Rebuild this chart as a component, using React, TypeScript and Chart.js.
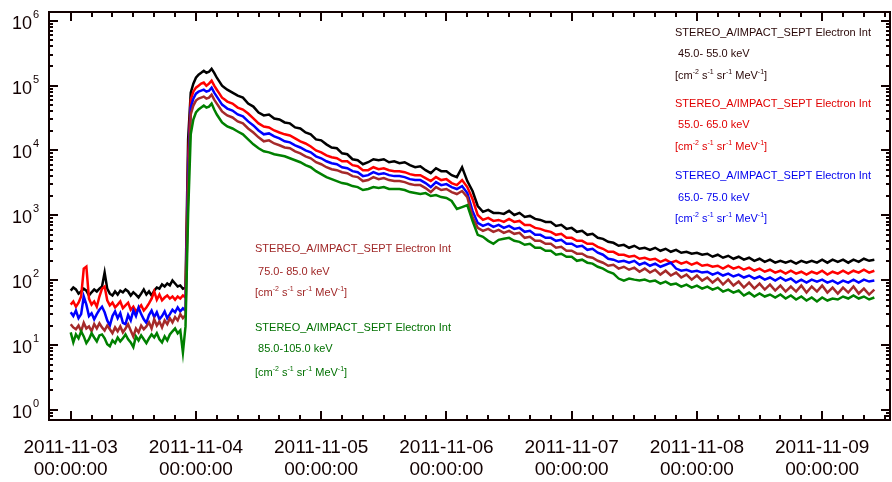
import { useEffect, useRef } from "react";
import { Chart, registerables } from "chart.js";

Chart.register(...registerables);

// Sample times in hours since 2011-11-03 00:00 UT:
// half-hour cadence up to 29.5 h (quiet period and onset), hourly from 30 h to 154 h.
const HALF_HOUR_COUNT = 60;
const HOURLY_COUNT = 125;
const HOURS: number[] = [
  ...Array.from({ length: HALF_HOUR_COUNT }, (_, i) => i * 0.5),
  ...Array.from({ length: HOURLY_COUNT }, (_, i) => 30 + i),
];

// Electron intensities [cm^-2 s^-1 sr^-1 MeV^-1]
const FLUX_45_55: number[] = [
  69, 77, 72, 62, 67, 74, 69, 58, 65, 72, 67, 74, 80, 131, 74, 62, 58, 67, 60, 69, 65, 72, 67, 58, 65,
  60, 54, 62, 72, 60, 67, 58, 69, 77, 74, 86, 80, 89, 83, 99, 89, 80, 83, 74, 77,
  14800, 77700, 107000, 132000, 147000, 157000, 169000, 157000, 163000, 181000, 157000, 132000, 115000, 99500, 92700,
  86300, 77700, 69900, 65100, 52700, 47400, 38400, 34600, 35800, 31100,
  30000, 27000, 26100, 22600, 21800, 18900, 17700, 14800, 14300, 12400,
  11100, 10800, 9020, 8720, 7310, 7060, 6130, 6580, 7310, 7060,
  7310, 6580, 6810, 6350, 6580, 5920, 5510, 5710, 4960, 4460,
  5320, 4790, 4790, 4160, 3880, 5510, 3370, 2370, 1390, 1130,
  1210, 1090, 1090, 1050, 1170, 1010, 1090, 944, 978, 880,
  849, 791, 791, 687, 712, 618, 640, 556, 576, 500,
  518, 450, 434, 390, 377, 339, 351, 316, 339, 305,
  316, 294, 316, 284, 305, 274, 294, 265, 274, 256,
  265, 247, 256, 230, 247, 222, 238, 214, 230, 207,
  222, 199, 214, 192, 207, 186, 199, 186, 199, 180,
  199, 186, 199, 186, 207, 186, 207, 192, 207, 186,
  207, 192, 214, 199, 207,
];

const FLUX_55_65: number[] = [
  42, 47, 39, 45, 56, 151, 162, 52, 42, 47, 39, 56, 74, 80, 49, 41, 45, 38, 42, 47, 37, 41, 45, 35, 39,
  33, 37, 41, 34, 38, 44, 52, 67, 50, 60, 49, 54, 58, 52, 56, 50, 56, 52, 58, 54,
  7310, 60700, 80400, 92700, 99500, 107000, 111000, 99500, 107000, 119000, 99500, 86300, 75000, 65100, 60700,
  56600, 52700, 45800, 42700, 37100, 31100, 26100, 23400, 22600, 20300,
  18900, 17700, 17000, 15300, 13800, 12800, 11500, 10000, 9340, 8410,
  7840, 7570, 6810, 6810, 5920, 5710, 4960, 4960, 5510, 5140,
  5320, 4960, 4790, 4790, 4620, 4310, 4160, 4160, 3740, 3370,
  3880, 3490, 3610, 3140, 2920, 3490, 2720, 1780, 1010, 849,
  911, 820, 849, 791, 880, 791, 820, 712, 712, 640,
  618, 576, 556, 500, 518, 450, 450, 404, 404, 364,
  364, 327, 305, 274, 274, 247, 247, 230, 238, 214,
  222, 207, 214, 192, 207, 186, 199, 180, 192, 173,
  186, 167, 173, 161, 167, 151, 167, 151, 161, 145,
  156, 140, 151, 135, 145, 131, 140, 126, 140, 126,
  135, 122, 135, 126, 140, 122, 135, 126, 140, 126,
  140, 131, 145, 131, 140,
];

const FLUX_65_75: number[] = [
  32, 28, 34, 26, 30, 56, 42, 28, 31, 25, 30, 35, 39, 32, 24, 20, 28, 33, 26, 31, 22, 21, 29, 24, 34,
  28, 38, 30, 25, 22, 29, 34, 27, 32, 25, 28, 33, 26, 30, 35, 32, 38, 33, 37, 34,
  4310, 45800, 62900, 75000, 80400, 83300, 86300, 80400, 83300, 92700, 77700, 67500, 58600, 50900, 47400,
  44200, 41200, 35800, 33400, 28000, 24300, 20300, 17700, 18300, 16500,
  15300, 13800, 13300, 12000, 11100, 10000, 9340, 8120, 7570, 6810,
  6350, 6130, 5510, 5320, 4790, 4620, 4020, 4160, 4620, 4310,
  4460, 4160, 4020, 4020, 3880, 3610, 3490, 3490, 3140, 2720,
  3250, 2920, 3030, 2720, 2540, 2820, 2200, 1170, 764, 687,
  737, 663, 712, 640, 687, 618, 640, 556, 576, 500,
  500, 450, 450, 404, 419, 364, 364, 327, 339, 294,
  305, 265, 247, 214, 207, 192, 199, 186, 199, 173,
  186, 167, 180, 161, 173, 186, 151, 140, 145, 135,
  140, 131, 135, 122, 131, 118, 126, 114, 122, 110,
  118, 106, 114, 102, 110, 98.6, 110, 98.6, 106, 91.9,
  102, 91.9, 102, 95.2, 102, 91.9, 98.6, 88.7, 98.6, 91.9,
  102, 91.9, 102, 95.2, 98.6,
];

const FLUX_75_85: number[] = [
  21, 18.7, 17.5, 20, 16.3, 22, 18, 19.4, 16.3, 21, 18, 21.6, 18.7, 16.8, 20, 17.5, 15.2, 18.7, 16.3, 19.4,
  15.7, 18, 21, 16.8, 13.6, 18, 15.7, 20, 17.5, 19.4, 22.4, 18, 25, 20, 23, 18.7, 24, 21, 26, 22.4,
  27, 24, 30, 26, 29,
  2540, 35800, 49100, 58600, 62900, 65100, 67500, 62900, 65100, 72400, 60700, 52700, 45800, 39800, 37100,
  34600, 32200, 28000, 26100, 21800, 18900, 15900, 13800, 14300, 12800,
  12000, 11100, 10800, 9680, 9020, 8120, 7570, 6580, 6130, 5510,
  5140, 4960, 4620, 4460, 4020, 3880, 3370, 3490, 3880, 3610,
  3740, 3490, 3370, 3370, 3250, 3030, 2920, 2920, 2630, 2280,
  2720, 2450, 2540, 2280, 2130, 2370, 1910, 944, 640, 576,
  618, 556, 596, 536, 576, 518, 536, 450, 466, 404,
  404, 364, 364, 316, 327, 284, 284, 256, 256, 230,
  222, 199, 186, 167, 173, 151, 161, 145, 156, 135,
  151, 131, 145, 122, 140, 118, 131, 110, 122, 102,
  118, 98.6, 110, 91.9, 106, 85.6, 102, 82.6, 95.2, 77.0,
  91.9, 74.3, 88.7, 71.7, 85.6, 69.2, 82.6, 66.8, 79.8, 66.8,
  82.6, 64.5, 79.8, 66.8, 82.6, 64.5, 77.0, 62.3, 77.0, 64.5,
  79.8, 62.3, 74.3, 60.1, 71.7,
];

const FLUX_85_105: number[] = [
  15.7, 11, 14.6, 12.7, 16.3, 13.6, 10.7, 12.3, 15.2, 13.1, 11.4, 14.1, 14.6, 12.7, 10.3, 9.6, 11.8, 10.7,
  13.1, 11.4, 12.7, 14.6, 12.3, 11, 9.3, 13.6, 11.8, 14.1, 12.3, 10.7, 12.7, 14.6, 13.1, 15.2, 12.3, 11,
  13.6, 11.8, 14.6, 16.3, 18.1, 15.2, 16.8, 7.7, 19.4,
  1050, 17700, 30000, 38400, 42700, 45800, 49100, 45800, 47400, 52700, 42700, 35800, 31100, 27000, 25100,
  23400, 21800, 19600, 17700, 14800, 12400, 10800, 9680, 9340, 8720,
  8410, 8120, 7570, 7060, 6580, 5920, 5510, 4790, 4310, 3880,
  3610, 3370, 3140, 3030, 2820, 2720, 2450, 2540, 2720, 2630,
  2720, 2540, 2540, 2540, 2450, 2280, 2200, 2130, 2200, 1980,
  2050, 1910, 1850, 1660, 1250, 1340, 1440, 820, 500, 466,
  404, 364, 419, 434, 450, 404, 390, 351, 364, 316,
  316, 284, 284, 247, 256, 230, 230, 199, 207, 186,
  180, 161, 151, 135, 126, 106, 98.6, 106, 102, 98.6,
  102, 95.2, 98.6, 88.7, 95.2, 85.6, 88.7, 79.8, 85.6, 77.0,
  82.6, 74.3, 79.8, 71.7, 77.0, 66.8, 71.7, 64.5, 69.2, 58.0,
  64.5, 56.0, 62.3, 56.0, 60.1, 54.1, 60.1, 52.2, 58.0, 50.4,
  56.0, 48.6, 54.1, 46.9, 54.1, 48.6, 52.2, 50.4, 56.0, 52.2,
  58.0, 52.2, 56.0, 50.4, 54.1,
];

const SERIES = [FLUX_45_55, FLUX_55_65, FLUX_65_75, FLUX_75_85, FLUX_85_105];
const ENERGY_BANDS = ["45.0- 55.0 keV", "55.0- 65.0 keV", "65.0- 75.0 keV", "75.0- 85.0 keV", "85.0-105.0 keV"];
const SERIES_COLORS = ["#000000", "#ff0000", "#0000ff", "#a52a2a", "#008000"];
const LABEL_COLORS = ["#2a0808", "#e00000", "#0000ee", "#a02828", "#007000"];
const INSTRUMENT = "STEREO_A/IMPACT_SEPT Electron Int";

const DAY_LABELS = ["2011-11-03", "2011-11-04", "2011-11-05", "2011-11-06", "2011-11-07", "2011-11-08", "2011-11-09"];
const TIME_LABEL = "00:00:00";
const DECADES = [0, 1, 2, 3, 4, 5, 6];

const X_MIN = -4.16;
const X_MAX = 157.0;
const Y_MIN = 0.746;
const Y_MAX = 1.36e6;

const FONT = "'Liberation Sans', Arial, sans-serif";
const AXIS_COLOR = "#120000";

// Label block anchors: left edge and baselines of the three text lines
const LEGEND_BLOCKS = [
  { x: 675, lines: [36, 57, 79] },
  { x: 675, lines: [107, 128, 150] },
  { x: 675, lines: [179, 201, 222] },
  { x: 255, lines: [252, 275, 296] },
  { x: 255, lines: [331, 352, 376] },
];

function drawUnits(ctx: CanvasRenderingContext2D, x: number, y: number) {
  const parts: [string, boolean][] = [
    ["[cm", false], ["-2", true], [" s", false], ["-1", true],
    [" sr", false], ["-1", true], [" MeV", false], ["-1", true], ["]", false],
  ];
  let cx = x;
  for (const [text, sup] of parts) {
    ctx.font = sup ? `7px ${FONT}` : `11px ${FONT}`;
    ctx.fillText(text, cx, sup ? y - 5 : y);
    cx += ctx.measureText(text).width;
  }
}

const framePlugin = {
  id: "idlFrame",
  afterDraw(chart: any) {
    const { ctx, chartArea: a, scales } = chart;
    const xs = scales.x;
    const ys = scales.y;
    ctx.save();
    ctx.strokeStyle = AXIS_COLOR;
    ctx.fillStyle = AXIS_COLOR;
    ctx.lineWidth = 2;
    ctx.strokeRect(a.left, a.top, a.right - a.left, a.bottom - a.top);

    // time ticks every 4 hours, longer at midnight
    ctx.beginPath();
    for (let h = 0; h <= 156; h += 4) {
      const px = Math.round(xs.getPixelForValue(h));
      const len = h % 24 === 0 ? 9 : 5;
      ctx.moveTo(px, a.bottom);
      ctx.lineTo(px, a.bottom - len);
      ctx.moveTo(px, a.top);
      ctx.lineTo(px, a.top + len);
    }
    // logarithmic ticks on both vertical axes
    for (let d = -1; d <= 6; d++) {
      for (let k = 1; k <= 9; k++) {
        const v = k * Math.pow(10, d);
        if (v < Y_MIN || v > Y_MAX) continue;
        const py = Math.round(ys.getPixelForValue(v));
        const len = k === 1 ? 9 : 4;
        ctx.moveTo(a.left, py);
        ctx.lineTo(a.left + len, py);
        ctx.moveTo(a.right, py);
        ctx.lineTo(a.right - len, py);
      }
    }
    ctx.stroke();

    // decade labels
    for (const d of DECADES) {
      const py = ys.getPixelForValue(Math.pow(10, d));
      ctx.textAlign = "right";
      ctx.font = `18px ${FONT}`;
      ctx.fillText("10", 32, py + 8);
      ctx.textAlign = "left";
      ctx.font = `11px ${FONT}`;
      ctx.fillText(String(d), 33, py - 3);
    }

    // date labels
    ctx.textAlign = "center";
    ctx.font = `19px ${FONT}`;
    DAY_LABELS.forEach((label, i) => {
      const px = xs.getPixelForValue(24 * i);
      ctx.fillText(label, px, 453);
      ctx.fillText(TIME_LABEL, px, 475);
    });

    // channel annotations
    ctx.textAlign = "left";
    LEGEND_BLOCKS.forEach((b, i) => {
      ctx.fillStyle = LABEL_COLORS[i];
      ctx.font = `11px ${FONT}`;
      ctx.fillText(INSTRUMENT, b.x, b.lines[0]);
      ctx.fillText(" " + ENERGY_BANDS[i], b.x, b.lines[1]);
      drawUnits(ctx, b.x, b.lines[2]);
    });
    ctx.restore();
  },
};

export default function App() {
  const canvasRef = useRef<HTMLCanvasElement | null>(null);

  useEffect(() => {
    if (!canvasRef.current) return;
    const chart = new Chart(canvasRef.current, {
      type: "line",
      data: {
        datasets: SERIES.map((values, i) => ({
          label: ENERGY_BANDS[i],
          data: HOURS.map((h, j) => ({ x: h, y: values[j] })),
          borderColor: SERIES_COLORS[i],
          backgroundColor: SERIES_COLORS[i],
          borderWidth: 2.5,
          pointRadius: 0,
          tension: 0,
          fill: false,
          order: SERIES.length - i,
        })),
      },
      options: {
        animation: false,
        responsive: false,
        devicePixelRatio: 1,
        layout: { padding: { left: 49, right: 2, top: 12, bottom: 62 } },
        scales: {
          x: { type: "linear", min: X_MIN, max: X_MAX, display: false },
          y: { type: "logarithmic", min: Y_MIN, max: Y_MAX, display: false },
        },
        plugins: {
          legend: { display: false },
          tooltip: { enabled: false },
        },
      },
      plugins: [framePlugin],
    });
    return () => chart.destroy();
  }, []);

  return (
    <div style={{ position: "fixed", left: 0, top: 0, width: 892, height: 482, background: "#fff" }}>
      <canvas ref={canvasRef} width={892} height={482} style={{ display: "block" }} />
    </div>
  );
}
